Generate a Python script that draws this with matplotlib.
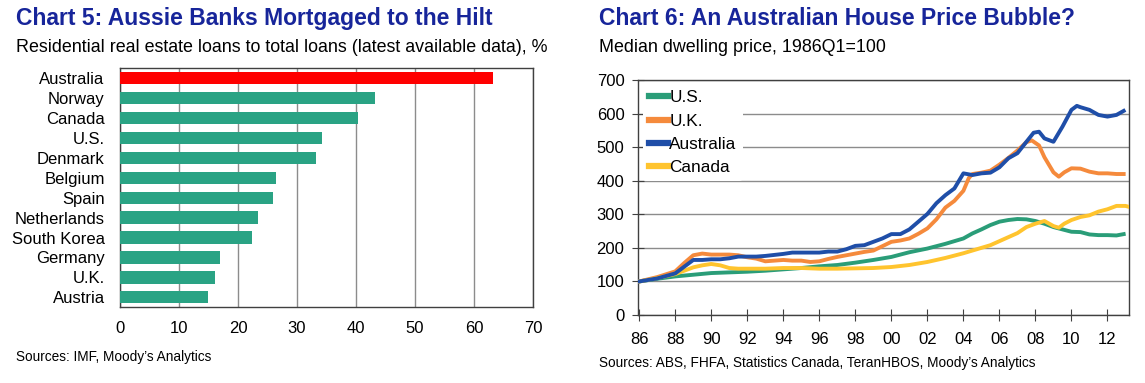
import matplotlib.pyplot as plt
import numpy as np

plt.rcParams['font.family'] = ['Liberation Sans', 'DejaVu Sans']

# Chart 5 data
countries = ['Australia', 'Norway', 'Canada', 'U.S.', 'Denmark', 'Belgium', 'Spain',
             'Netherlands', 'South Korea', 'Germany', 'U.K.', 'Austria']
loan_share = [63.3, 43.3, 40.4, 34.2, 33.3, 26.5, 25.9, 23.4, 22.3, 16.9, 16.1, 14.9]

# Chart 6 data (index, 1986Q1=100)
us_years = [1986, 1987, 1988, 1989, 1990, 1991, 1992, 1993, 1994, 1995, 1996, 1997,
            1998, 1999, 2000, 2001, 2002, 2003, 2004, 2004.5, 2005, 2005.5, 2006,
            2006.5, 2007, 2007.5, 2008, 2008.5, 2009, 2009.5, 2010, 2010.5, 2011,
            2011.5, 2012, 2012.5, 2012.9]
us_index = [100, 108, 115, 120, 125, 127, 129, 132, 136, 140, 145, 149,
            156, 164, 173, 187, 198, 212, 228, 243, 255, 268, 278,
            283, 286, 285, 280, 272, 262, 255, 248, 247, 240,
            238, 238, 237, 241]

uk_years = [1986, 1987, 1988, 1988.5, 1989, 1989.5, 1990, 1990.5, 1991, 1991.5, 1992,
            1992.5, 1993, 1993.5, 1994, 1994.5, 1995, 1995.5, 1996, 1996.5, 1997,
            1997.5, 1998, 1998.5, 1999, 1999.5, 2000, 2000.5, 2001, 2001.5, 2002,
            2002.5, 2003, 2003.5, 2004, 2004.3, 2004.5, 2005, 2005.5, 2006, 2006.5,
            2007, 2007.5, 2007.8, 2008.2, 2008.5, 2009, 2009.3, 2009.6, 2010, 2010.5,
            2011, 2011.5, 2012, 2012.5, 2012.9]
uk_index = [100, 113, 130, 155, 178, 183, 180, 180, 180, 178, 172,
            168, 160, 162, 164, 162, 162, 158, 160, 167, 173,
            178, 183, 188, 192, 205, 218, 222, 228, 242, 258,
            285, 320, 340, 370, 408, 420, 424, 430, 448, 468,
            490, 515, 520, 505, 470, 425, 412, 425, 437, 436,
            427, 422, 422, 420, 420]

au_years = [1986, 1987, 1988, 1988.5, 1989, 1989.5, 1990, 1990.5, 1991, 1991.5, 1992,
            1992.5, 1993, 1994, 1994.5, 1995, 1996, 1996.5, 1997, 1997.5, 1998,
            1998.5, 1999, 1999.5, 2000, 2000.5, 2001, 2001.5, 2002, 2002.5, 2003,
            2003.5, 2004, 2004.5, 2005, 2005.5, 2006, 2006.5, 2007, 2007.5, 2007.9,
            2008.2, 2008.5, 2009, 2009.5, 2010, 2010.3, 2010.5, 2011, 2011.5, 2012,
            2012.5, 2012.9]
au_index = [100, 109, 124, 144, 164, 164, 166, 166, 169, 174, 174,
            174, 176, 182, 186, 186, 186, 189, 189, 196, 206,
            208, 218, 228, 241, 241, 255, 278, 301, 333, 357,
            377, 422, 417, 422, 424, 440, 467, 482, 516, 543,
            546, 526, 516, 561, 611, 623, 619, 611, 596, 591,
            596, 608]

ca_years = [1986, 1987, 1988, 1988.5, 1989, 1989.5, 1990, 1990.5, 1991, 1991.5, 1992,
            1993, 1994, 1995, 1996, 1997, 1998, 1999, 2000, 2001, 2002, 2003, 2004,
            2005, 2005.5, 2006, 2006.5, 2007, 2007.5, 2008, 2008.5, 2009, 2009.3,
            2009.6, 2010, 2010.5, 2011, 2011.5, 2012, 2012.5, 2013.0, 2013.2]
ca_index = [100, 110, 122, 132, 142, 148, 152, 148, 140, 138, 138,
            138, 140, 140, 138, 138, 139, 140, 143, 149, 158, 170, 184,
            200, 208, 220, 232, 244, 262, 272, 280, 265, 260,
            272, 283, 292, 297, 308, 315, 325, 325, 322]

year_ticks = list(range(1986, 2013, 2))

TITLE_COLOR = '#17259a'
GRID_COLOR = '#8c8c8c'
SPINE_COLOR = '#404040'


def draw_bars(ax):
    colors = ['#ff0000'] + ['#2aa384'] * (len(countries) - 1)
    y = np.arange(len(countries))
    ax.barh(y, loan_share, height=0.62, color=colors, zorder=3)
    ax.set_yticks(y)
    ax.set_yticklabels(countries, fontsize=12)
    ax.set_ylim(len(countries) - 0.5, -0.5)
    ax.set_xlim(0, 70)
    ax.set_xticks(range(0, 71, 10))
    ax.tick_params(axis='x', labelsize=12, length=0, pad=10)
    ax.tick_params(axis='y', length=0, pad=11)
    ax.grid(axis='x', color=GRID_COLOR, linewidth=1, zorder=0)
    for s in ax.spines.values():
        s.set_color(SPINE_COLOR)
        s.set_linewidth(1)


def draw_lines(ax):
    ax.plot(us_years, us_index, color='#2a9d78', lw=2.8, label='U.S.', zorder=3)
    ax.plot(uk_years, uk_index, color='#f58a3c', lw=2.8, label='U.K.', zorder=3)
    ax.plot(au_years, au_index, color='#1f4ea8', lw=2.8, label='Australia', zorder=4)
    ax.plot(ca_years, ca_index, color='#ffc42e', lw=2.8, label='Canada', zorder=3)
    ax.set_xlim(1985.95, 2013.2)
    ax.set_ylim(0, 700)
    ax.set_yticks(range(0, 701, 100))
    ax.set_xticks(year_ticks)
    ax.set_xticklabels(['%02d' % (y % 100) for y in year_ticks])
    ax.tick_params(labelsize=12, direction='inout', length=8, color=SPINE_COLOR)
    ax.tick_params(axis='x', pad=8)
    ax.tick_params(axis='y', pad=6)
    ax.grid(axis='y', color=GRID_COLOR, linewidth=1, zorder=0)
    for s in ax.spines.values():
        s.set_color(SPINE_COLOR)
        s.set_linewidth(1)
    leg = ax.legend(loc='upper left', bbox_to_anchor=(0.0, 1.0), fontsize=12.4,
                    frameon=True, framealpha=1, edgecolor='none', handlelength=1.1,
                    handletextpad=0.1, labelspacing=0.47, borderaxespad=0.25,
                    borderpad=0.35)
    leg.get_frame().set_linewidth(0)
    for h in leg.get_lines():
        h.set_linewidth(4.5)


def main():
    fig = plt.figure(figsize=(11.45, 3.83), dpi=100)

    ax1 = fig.add_axes([0.1048, 0.1977, 0.3607, 0.624])
    draw_bars(ax1)
    ax2 = fig.add_axes([0.5575, 0.1775, 0.4286, 0.6136])
    draw_lines(ax2)

    fig.text(0.014, 0.953, 'Chart 5: Aussie Banks Mortgaged to the Hilt', fontsize=16.5,
             fontweight='bold', color=TITLE_COLOR, va='center')
    fig.text(0.014, 0.875, 'Residential real estate loans to total loans (latest available data), %',
             fontsize=12.9, va='center')
    fig.text(0.014, 0.068, 'Sources: IMF, Moody\u2019s Analytics', fontsize=9.8, va='center')

    fig.text(0.523, 0.953, 'Chart 6: An Australian House Price Bubble?', fontsize=16.5,
             fontweight='bold', color=TITLE_COLOR, va='center')
    fig.text(0.523, 0.875, 'Median dwelling price, 1986Q1=100', fontsize=12.9, va='center')
    fig.text(0.523, 0.052, 'Sources: ABS, FHFA, Statistics Canada, TeranHBOS, Moody\u2019s Analytics',
             fontsize=9.8, va='center')

    fig.savefig('out.png', dpi=100)


if __name__ == '__main__':
    main()
